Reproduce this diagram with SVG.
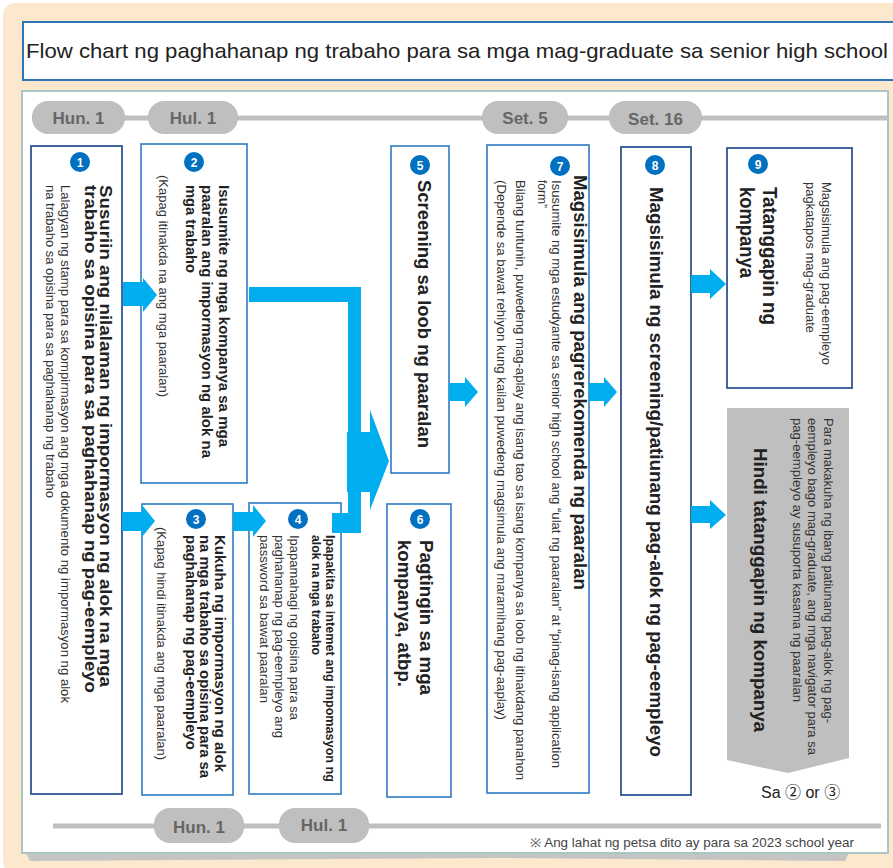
<svg xmlns="http://www.w3.org/2000/svg" width="893" height="868" viewBox="0 0 893 868">
<style>
.b{font-family:"Liberation Sans",Arial,sans-serif;font-weight:bold;fill:#222}
.r{font-family:"Liberation Sans",Arial,sans-serif;fill:#333}
.box{fill:#fff;stroke:#2E7BC4;stroke-width:1.6}
.dbox{fill:#fff;stroke:#2F5597;stroke-width:1.8}
.pill{fill:#BFBFBF}
.pt{font-family:"Liberation Sans",Arial,sans-serif;font-weight:bold;font-size:17px;fill:#666;text-anchor:middle}
.num{fill:#0070C0}
.nt{font-family:"Liberation Sans",Arial,sans-serif;font-weight:bold;font-size:12px;fill:#fff;text-anchor:middle}
.arr{fill:#00AEEF}
</style>
<rect x="3" y="3" width="900" height="870" rx="12" fill="#FBE8CD"/>
<g id="title">
<rect x="23" y="22" width="880" height="58" fill="#fff" stroke="#2E75B6" stroke-width="2"/>
<text x="26" y="58" font-family="'Liberation Sans',Arial,sans-serif" font-size="21" fill="#222" textLength="862" lengthAdjust="spacingAndGlyphs">Flow chart ng paghahanap ng trabaho para sa mga mag-graduate sa senior high school</text>
</g>
<polygon points="26,853 497,853 849,853 845,861 497,858 30,861" fill="#C4C4C4"/>
<rect id="panel" x="22" y="91" width="866" height="762" fill="#fff" stroke="#A9C6C4" stroke-width="2"/>
<g id="timeline-top">
<line x1="32" y1="118" x2="887" y2="118" stroke="#BFBFBF" stroke-width="5"/>
<rect class="pill" x="32" y="101" width="93" height="33" rx="16"/><text class="pt" x="78.5" y="123.5">Hun. 1</text>
<rect class="pill" x="148" y="101" width="90" height="33" rx="16"/><text class="pt" x="193" y="123.5">Hul. 1</text>
<rect class="pill" x="482" y="101" width="86" height="33" rx="16"/><text class="pt" x="525" y="123.5">Set. 5</text>
<rect class="pill" x="609" y="101" width="93" height="33" rx="16"/><text class="pt" x="655.5" y="125">Set. 16</text>
</g>
<g id="timeline-bottom">
<line x1="53" y1="826" x2="881" y2="826" stroke="#BFBFBF" stroke-width="5"/>
<rect class="pill" x="154" y="808" width="90" height="35" rx="16"/><text class="pt" x="199" y="833">Hun. 1</text>
<rect class="pill" x="279" y="808" width="90" height="35" rx="16"/><text class="pt" x="324" y="831">Hul. 1</text>
<text x="530" y="847" font-family="'Liberation Sans',Arial,sans-serif" font-size="12" fill="#444" textLength="324" lengthAdjust="spacingAndGlyphs">※ Ang lahat ng petsa dito ay para sa 2023 school year</text>
</g>
<g id="node1">
<rect class="dbox" x="31" y="146" width="91" height="648"/>
<circle class="num" cx="80" cy="162" r="10"/><text class="nt" x="80" y="166.5">1</text>
<text class="b" font-size="16" transform="translate(100,185) rotate(90)" textLength="502" lengthAdjust="spacingAndGlyphs">Susuriin ang nilalaman ng impormasyon ng alok na mga</text>
<text class="b" font-size="16" transform="translate(85,185) rotate(90)" textLength="508" lengthAdjust="spacingAndGlyphs">trabaho sa opisina para sa paghahanap ng pag-eempleyo</text>
<text class="r" font-size="12" transform="translate(61,185) rotate(90)" textLength="518" lengthAdjust="spacingAndGlyphs">Lalagyan ng stamp para sa kompirmasyon ang mga dokumento ng impormasyon ng alok</text>
<text class="r" font-size="12" transform="translate(46,185) rotate(90)" textLength="313" lengthAdjust="spacingAndGlyphs">na trabaho sa opisina para sa paghahanap ng trabaho</text>
</g>
<g id="node2">
<rect class="box" x="141" y="144" width="106" height="339"/>
<circle class="num" cx="194" cy="162" r="10"/><text class="nt" x="194" y="166.5">2</text>
<text class="b" font-size="14" transform="translate(219,185) rotate(90)" textLength="262" lengthAdjust="spacingAndGlyphs">Isusumite ng mga kompanya sa mga</text>
<text class="b" font-size="14" transform="translate(202,185) rotate(90)" textLength="273" lengthAdjust="spacingAndGlyphs">paaralan ang impormasyon ng alok na</text>
<text class="b" font-size="14" transform="translate(186,185) rotate(90)" textLength="88" lengthAdjust="spacingAndGlyphs">mga trabaho</text>
<text class="r" font-size="12" transform="translate(159,175) rotate(90)" textLength="222" lengthAdjust="spacingAndGlyphs">(Kapag itinakda na ang mga paaralan)</text>
</g>
<g id="node3">
<rect class="box" x="142" y="504" width="91" height="291"/>
<circle class="num" cx="196" cy="519" r="10"/><text class="nt" x="196" y="523.5">3</text>
<text class="b" font-size="14" transform="translate(215,535) rotate(90)" textLength="237" lengthAdjust="spacingAndGlyphs">Kukuha ng impormasyon ng alok</text>
<text class="b" font-size="14" transform="translate(200,535) rotate(90)" textLength="243" lengthAdjust="spacingAndGlyphs">na mga trabaho sa opisina para sa</text>
<text class="b" font-size="14" transform="translate(186,535) rotate(90)" textLength="215" lengthAdjust="spacingAndGlyphs">paghahanap ng pag-eempleyo</text>
<text class="r" font-size="12" transform="translate(157,527) rotate(90)" textLength="233" lengthAdjust="spacingAndGlyphs">(Kapag hindi itinakda ang mga paaralan)</text>
</g>
<g id="node4">
<rect class="box" x="249" y="503" width="92" height="291"/>
<circle class="num" cx="298" cy="519" r="10"/><text class="nt" x="298" y="523.5">4</text>
<text class="b" font-size="13" transform="translate(326,535) rotate(90)" textLength="247" lengthAdjust="spacingAndGlyphs">Ipapakita sa intemet ang impomasyon ng</text>
<text class="b" font-size="13" transform="translate(312,535) rotate(90)" textLength="120" lengthAdjust="spacingAndGlyphs">alok na mga trabaho</text>
<text class="r" font-size="12" transform="translate(290,535) rotate(90)" textLength="185" lengthAdjust="spacingAndGlyphs">Ipapamahagi ng opisina para sa</text>
<text class="r" font-size="12" transform="translate(275,535) rotate(90)" textLength="203" lengthAdjust="spacingAndGlyphs">paghahanap ng pag-eempleyo ang</text>
<text class="r" font-size="12" transform="translate(260,535) rotate(90)" textLength="168" lengthAdjust="spacingAndGlyphs">password sa bawat paaralan</text>
</g>
<g id="node5">
<rect class="box" x="391" y="146" width="58" height="327"/>
<circle class="num" cx="420" cy="165" r="10"/><text class="nt" x="420" y="169.5">5</text>
<text class="b" font-size="19" transform="translate(418,180) rotate(90)" textLength="268" lengthAdjust="spacingAndGlyphs">Screening sa loob ng paaralan</text>
</g>
<g id="node6">
<rect class="box" x="387" y="504" width="64" height="293"/>
<circle class="num" cx="420" cy="519" r="10"/><text class="nt" x="420" y="523.5">6</text>
<text class="b" font-size="19" transform="translate(420,540) rotate(90)" textLength="155" lengthAdjust="spacingAndGlyphs">Pagtingin sa mga</text>
<text class="b" font-size="19" transform="translate(398,540) rotate(90)" textLength="147" lengthAdjust="spacingAndGlyphs">kompanya, atbp.</text>
</g>
<g id="node7">
<rect class="box" x="487" y="145" width="102" height="648"/>
<circle class="num" cx="560" cy="166" r="10"/><text class="nt" x="560" y="170.5">7</text>
<text class="b" font-size="19" transform="translate(574,175) rotate(90)" textLength="415" lengthAdjust="spacingAndGlyphs">Magsisimula ang pagrerekomenda ng paaralan</text>
<text class="r" font-size="12" transform="translate(552,180) rotate(90)" textLength="588" lengthAdjust="spacingAndGlyphs">Isusumite ng mga estudyante sa senior high school ang “ulat ng paaralan” at “pinag-isang application</text>
<text class="r" font-size="12" transform="translate(538,180) rotate(90)">form”</text>
<text class="r" font-size="12" transform="translate(516,180) rotate(90)" textLength="600" lengthAdjust="spacingAndGlyphs">Bilang tuntunin, puwedeng mag-aplay ang isang tao sa isang kompanya sa loob ng itinakdang panahon</text>
<text class="r" font-size="12" transform="translate(497,180) rotate(90)" textLength="540" lengthAdjust="spacingAndGlyphs">(Depende sa bawat rehiyon kung kailan puwedeng magsimula ang maramihang pag-aaplay)</text>
</g>
<g id="node8">
<rect class="dbox" x="621" y="147" width="70" height="648"/>
<circle class="num" cx="655" cy="165" r="10"/><text class="nt" x="655" y="169.5">8</text>
<text class="b" font-size="19" transform="translate(650,187) rotate(90)" textLength="570" lengthAdjust="spacingAndGlyphs">Magsisimula ng screening/patiunang pag-alok ng pag-eempleyo</text>
</g>
<g id="node9">
<rect class="dbox" x="727" y="148" width="125" height="240"/>
<circle class="num" cx="758" cy="164" r="10"/><text class="nt" x="758" y="168.5">9</text>
<text class="r" font-size="12" transform="translate(822,182) rotate(90)" textLength="183" lengthAdjust="spacingAndGlyphs">Magsisimula ang pag-eempleyo</text>
<text class="r" font-size="12" transform="translate(806,182) rotate(90)" textLength="151" lengthAdjust="spacingAndGlyphs">pagkatapos mag-graduate</text>
<text class="b" font-size="20" transform="translate(763,187) rotate(90)" textLength="138" lengthAdjust="spacingAndGlyphs">Tatanggapin ng</text>
<text class="b" font-size="20" transform="translate(740,187) rotate(90)" textLength="91" lengthAdjust="spacingAndGlyphs">kompanya</text>
</g>
<g id="node10">
<polygon points="727,408 849,408 849,758 788,773 727,760" fill="#BFBFBF"/>
<text class="r" font-size="12" transform="translate(824,418) rotate(90)" textLength="305" lengthAdjust="spacingAndGlyphs">Para makakuha ng ibang patiunang pag-alok ng pag-</text>
<text class="r" font-size="12" transform="translate(808,418) rotate(90)" textLength="337" lengthAdjust="spacingAndGlyphs">eempleyo bago mag-graduate, ang mga navigator para sa</text>
<text class="r" font-size="12" transform="translate(793,418) rotate(90)" textLength="284" lengthAdjust="spacingAndGlyphs">pag-eempleyo ay susuporta kasama ng paaralan</text>
<text class="b" font-size="19" transform="translate(754,448) rotate(90)" textLength="284" lengthAdjust="spacingAndGlyphs">Hindi tatanggapin ng kompanya</text>
<text x="761" y="798" font-family="'Liberation Sans','Noto Sans CJK JP',sans-serif" font-size="16" fill="#222">Sa ② or ③</text>
</g>
<g id="connectors">
<polygon class="arr" points="123,282 143,282 143,278 157,295 143,312 143,306 123,306"/>
<polygon class="arr" points="122,512 142,512 142,505 155,521 142,537 142,531 122,531"/>
<polygon class="arr" points="233,512 253,512 253,505 266,521 253,537 253,531 233,531"/>
<rect class="arr" x="249" y="287" width="112" height="15"/>
<rect class="arr" x="348" y="287" width="13" height="246"/>
<rect class="arr" x="332" y="513" width="29" height="20"/>
<polygon class="arr" points="347,432 370,432 370,410 389,461 370,510 370,492 347,492"/>
<polygon class="arr" points="449,383 465,383 465,377 478,392 465,407 465,401 449,401"/>
<polygon class="arr" points="589,383 604,383 604,377 617,392 604,407 604,401 589,401"/>
<polygon class="arr" points="691,275 710,275 710,269 726,284 710,299 710,293 691,293"/>
<polygon class="arr" points="691,506 710,506 710,500 726,515 710,529 710,523 691,523"/>
</g>
</svg>
